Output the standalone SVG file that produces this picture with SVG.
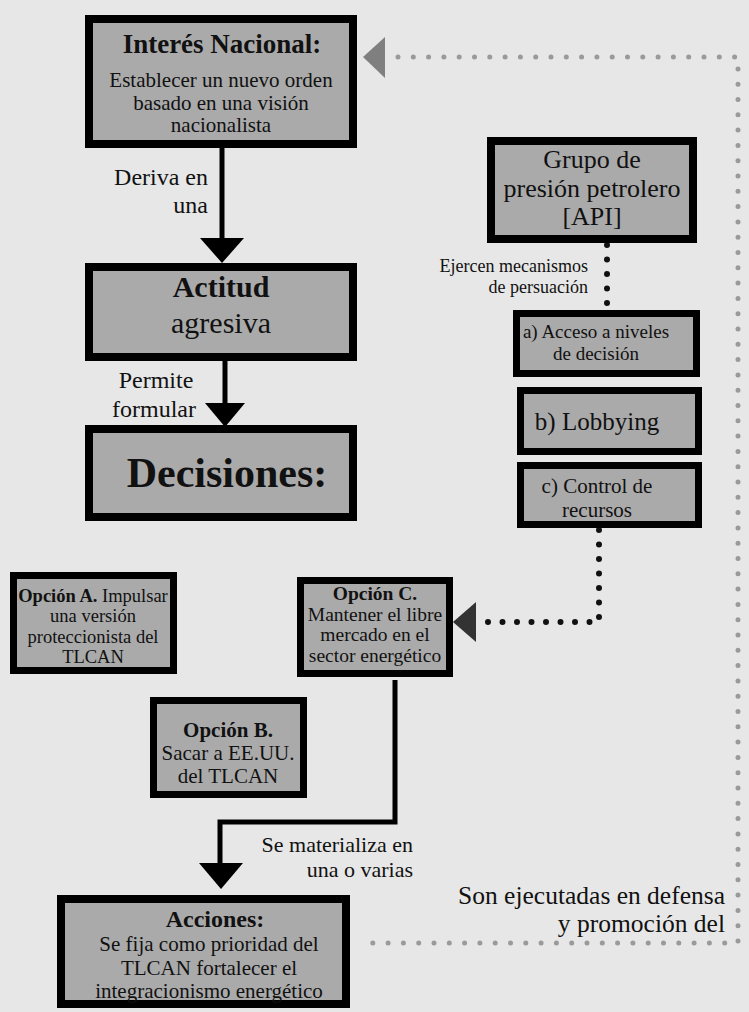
<svg xmlns="http://www.w3.org/2000/svg" width="749" height="1012" viewBox="0 0 749 1012">
<style>
.bx{fill:#aaaaaa;stroke:#000;stroke-width:8}
.bt{fill:#aaaaaa;stroke:#000;stroke-width:7}
.t{font-family:"Liberation Serif","Times New Roman",serif;fill:#111;text-anchor:middle}
.b{font-weight:bold}
.lbl{font-family:"Liberation Serif","Times New Roman",serif;fill:#111}
.ln{fill:none;stroke:#000;stroke-width:5}
.gdot{fill:none;stroke:#9a9a9a;stroke-width:5;stroke-linecap:round;stroke-dasharray:0 15.3}
.kdot{fill:none;stroke:#111;stroke-width:6;stroke-linecap:round;stroke-dasharray:0 14.5}
</style>
<rect width="749" height="1012" fill="#e7e7e7"/>
<g id="connectors">
<path class="gdot" d="M398 57 H738 V943 H366"/>
<polygon points="363,57 385,37 385,78" fill="#7f7f7f"/>
<line class="ln" x1="222" y1="148" x2="222" y2="240"/>
<polygon points="200,238 244,238 222,263"/>
<line class="ln" x1="225" y1="361" x2="225" y2="405"/>
<polygon points="205,403 245,403 225,427"/>
<path class="kdot" d="M607 245 V310"/>
<path class="kdot" d="M599 530 V622 H484"/>
<polygon points="453,622 476,602 476,642" fill="#333"/>
<polyline class="ln" points="395,680 395,822 220,822 220,866"/>
<polygon points="199,863 243,863 221,889"/>
</g>
<g class="lbl">
<text x="208" y="185" font-size="24" text-anchor="end">Deriva en</text>
<text x="208" y="213" font-size="24" text-anchor="end">una</text>
<text x="156" y="388" font-size="24" text-anchor="middle">Permite</text>
<text x="154" y="417" font-size="24" text-anchor="middle">formular</text>
<text x="588" y="272" font-size="18" text-anchor="end">Ejercen mecanismos</text>
<text x="588" y="293" font-size="18" text-anchor="end">de persuación</text>
<text x="413" y="852" font-size="22" text-anchor="end">Se materializa en</text>
<text x="413" y="877" font-size="22" text-anchor="end">una o varias</text>
<text x="725" y="904" font-size="25.5" text-anchor="end">Son ejecutadas en defensa</text>
<text x="725" y="932" font-size="25.5" text-anchor="end">y promoción del</text>
</g>
<g id="interes">
<rect class="bx" x="89" y="19" width="264" height="125"/>
<text class="t b" x="222" y="53" font-size="27">Interés Nacional:</text>
<text class="t" x="221" y="87" font-size="21">Establecer un nuevo orden</text>
<text class="t" x="221" y="110" font-size="21">basado en una visión</text>
<text class="t" x="221" y="132" font-size="21">nacionalista</text>
</g>
<g id="actitud">
<rect class="bx" x="89" y="267" width="264" height="90"/>
<text class="t b" x="221" y="297" font-size="30">Actitud</text>
<text class="t" x="221" y="333" font-size="30">agresiva</text>
</g>
<g id="decisiones">
<rect class="bx" x="89" y="429" width="264" height="88"/>
<text class="t b" x="227" y="487" font-size="42">Decisiones:</text>
</g>
<g id="grupo">
<rect class="bx" x="491" y="141" width="202" height="98"/>
<text class="t" x="592" y="168" font-size="26">Grupo de</text>
<text class="t" x="592" y="197" font-size="26">presión petrolero</text>
<text class="t" x="592" y="225" font-size="26">[API]</text>
</g>
<g id="acceso">
<rect class="bt" x="516.5" y="313.5" width="180" height="60"/>
<text class="t" x="596" y="338" font-size="19">a) Acceso a niveles</text>
<text class="t" x="596" y="360" font-size="19">de decisión</text>
</g>
<g id="lobbying">
<rect class="bt" x="520.5" y="390.5" width="178" height="61"/>
<text class="t" x="597" y="430" font-size="25">b) Lobbying</text>
</g>
<g id="control">
<rect class="bt" x="520.5" y="465.5" width="178" height="59"/>
<text class="t" x="597" y="493" font-size="21">c) Control de</text>
<text class="t" x="597" y="517" font-size="21">recursos</text>
</g>
<g id="opcionA">
<rect class="bt" x="13.5" y="575.5" width="160" height="95"/>
<text class="t" x="93" y="602" font-size="18.5"><tspan font-weight="bold">Opción A.</tspan> Impulsar</text>
<text class="t" x="93" y="622" font-size="18.5">una versión</text>
<text class="t" x="93" y="643" font-size="18.5">proteccionista del</text>
<text class="t" x="93" y="663" font-size="18.5">TLCAN</text>
</g>
<g id="opcionC">
<rect class="bt" x="300.5" y="580.5" width="149" height="93"/>
<text class="t b" x="375" y="600" font-size="19.5">Opción C.</text>
<text class="t" x="375" y="621" font-size="19.5">Mantener el libre</text>
<text class="t" x="375" y="641" font-size="19.5">mercado en el</text>
<text class="t" x="375" y="662" font-size="19.5">sector energético</text>
</g>
<g id="opcionB">
<rect class="bt" x="153.5" y="700.5" width="150" height="94"/>
<text class="t b" x="228" y="737" font-size="21">Opción B.</text>
<text class="t" x="228" y="760" font-size="21">Sacar a EE.UU.</text>
<text class="t" x="228" y="783" font-size="21">del TLCAN</text>
</g>
<g id="acciones">
<rect class="bx" x="61" y="899" width="285" height="105"/>
<text class="t b" x="215" y="927" font-size="24">Acciones:</text>
<text class="t" x="209" y="951" font-size="21">Se fija como prioridad del</text>
<text class="t" x="209" y="975" font-size="21">TLCAN fortalecer el</text>
<text class="t" x="209" y="998" font-size="21">integracionismo energético</text>
</g>
</svg>
